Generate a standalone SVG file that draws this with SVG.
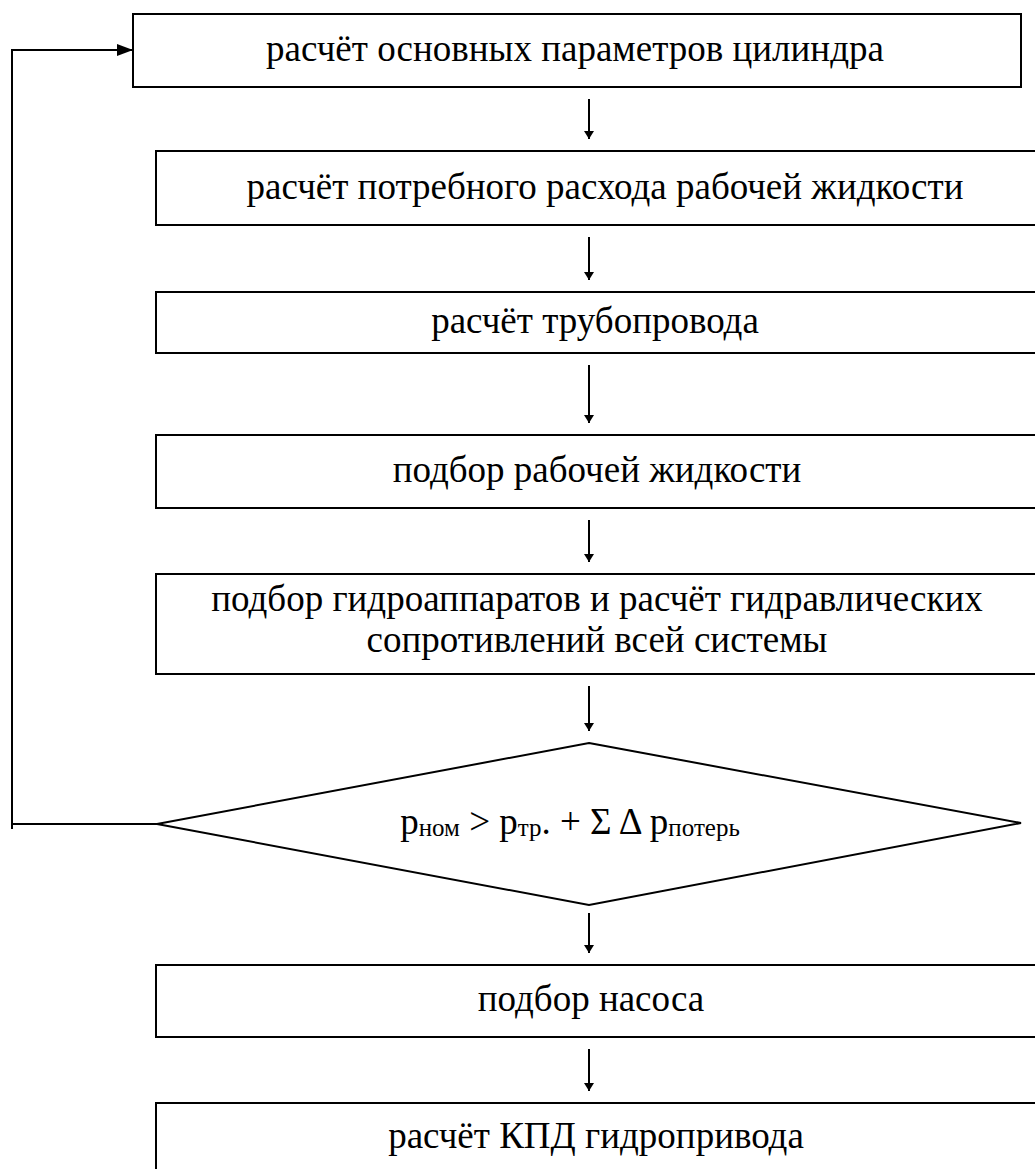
<svg xmlns="http://www.w3.org/2000/svg" width="1035" height="1169" viewBox="0 0 1035 1169">
<style>
.box{fill:#fff;stroke:#000;stroke-width:2}
.t{font-size:37px;fill:#000;text-anchor:middle}
.ln{fill:none;stroke:#000;stroke-width:2}
.sub{font-size:25px}
</style>
<defs>
<marker id="ah" viewBox="0 0 10 10" refX="10" refY="5" markerWidth="8" markerHeight="10" markerUnits="userSpaceOnUse" orient="auto" preserveAspectRatio="none">
<path d="M0,0 L10,5 L0,10 Z" fill="#000"/>
</marker>
<marker id="ahb" viewBox="0 0 12 10" refX="12" refY="5" markerWidth="16" markerHeight="12" markerUnits="userSpaceOnUse" orient="auto" preserveAspectRatio="none">
<path d="M0,0 L12,5 L0,10 Z" fill="#000"/>
</marker>
</defs>
<rect width="1035" height="1169" fill="#fff"/>
<g id="connectors">
<line class="ln" x1="589" y1="99" x2="589" y2="139" marker-end="url(#ah)"/>
<line class="ln" x1="589" y1="237" x2="589" y2="280" marker-end="url(#ah)"/>
<line class="ln" x1="589" y1="365" x2="589" y2="423" marker-end="url(#ah)"/>
<line class="ln" x1="589" y1="520" x2="589" y2="562" marker-end="url(#ah)"/>
<line class="ln" x1="589" y1="686" x2="589" y2="731" marker-end="url(#ah)"/>
<line class="ln" x1="589" y1="913" x2="589" y2="953" marker-end="url(#ah)"/>
<line class="ln" x1="589" y1="1049" x2="589" y2="1091" marker-end="url(#ah)"/>
<polyline class="ln" points="157,824 12,824"/>
<line class="ln" x1="12" y1="829" x2="12" y2="49"/>
<line class="ln" x1="12" y1="50" x2="133" y2="50" marker-end="url(#ahb)"/>
</g>
<g id="n1"><rect class="box" x="133" y="14" width="888" height="73"/><text class="t" font-family="Liberation Serif" x="575" y="61">расчёт основных параметров цилиндра</text></g>
<g id="n2"><rect class="box" x="156" y="151" width="894" height="74"/><text class="t" font-family="Liberation Serif" x="605" y="199">расчёт потребного расхода рабочей жидкости</text></g>
<g id="n3"><rect class="box" x="156" y="292" width="894" height="61"/><text class="t" font-family="Liberation Serif" x="595" y="333">расчёт трубопровода</text></g>
<g id="n4"><rect class="box" x="156" y="435" width="894" height="73"/><text class="t" font-family="Liberation Serif" x="597" y="482">подбор рабочей жидкости</text></g>
<g id="n5"><rect class="box" x="156" y="574" width="894" height="100"/><text class="t" font-family="Liberation Serif" x="597" y="611">подбор гидроаппаратов и расчёт гидравлических</text><text class="t" font-family="Liberation Serif" x="597" y="652">сопротивлений всей системы</text></g>
<g id="n6"><polygon class="box" points="589,743 1021,823 589,905 157,824"/><text class="t" font-family="Liberation Serif" x="570" y="834">p<tspan class="sub" dy="2">ном</tspan><tspan dy="-2"> &gt; p</tspan><tspan class="sub" dy="2">тр</tspan><tspan dy="-2">. + Σ Δ p</tspan><tspan class="sub" dy="2">потерь</tspan></text></g>
<g id="n7"><rect class="box" x="156" y="965" width="894" height="72"/><text class="t" font-family="Liberation Serif" x="591" y="1011">подбор насоса</text></g>
<g id="n8"><rect class="box" x="156" y="1103" width="894" height="80"/><text class="t" font-family="Liberation Serif" x="596" y="1148">расчёт КПД гидропривода</text></g>
</svg>
